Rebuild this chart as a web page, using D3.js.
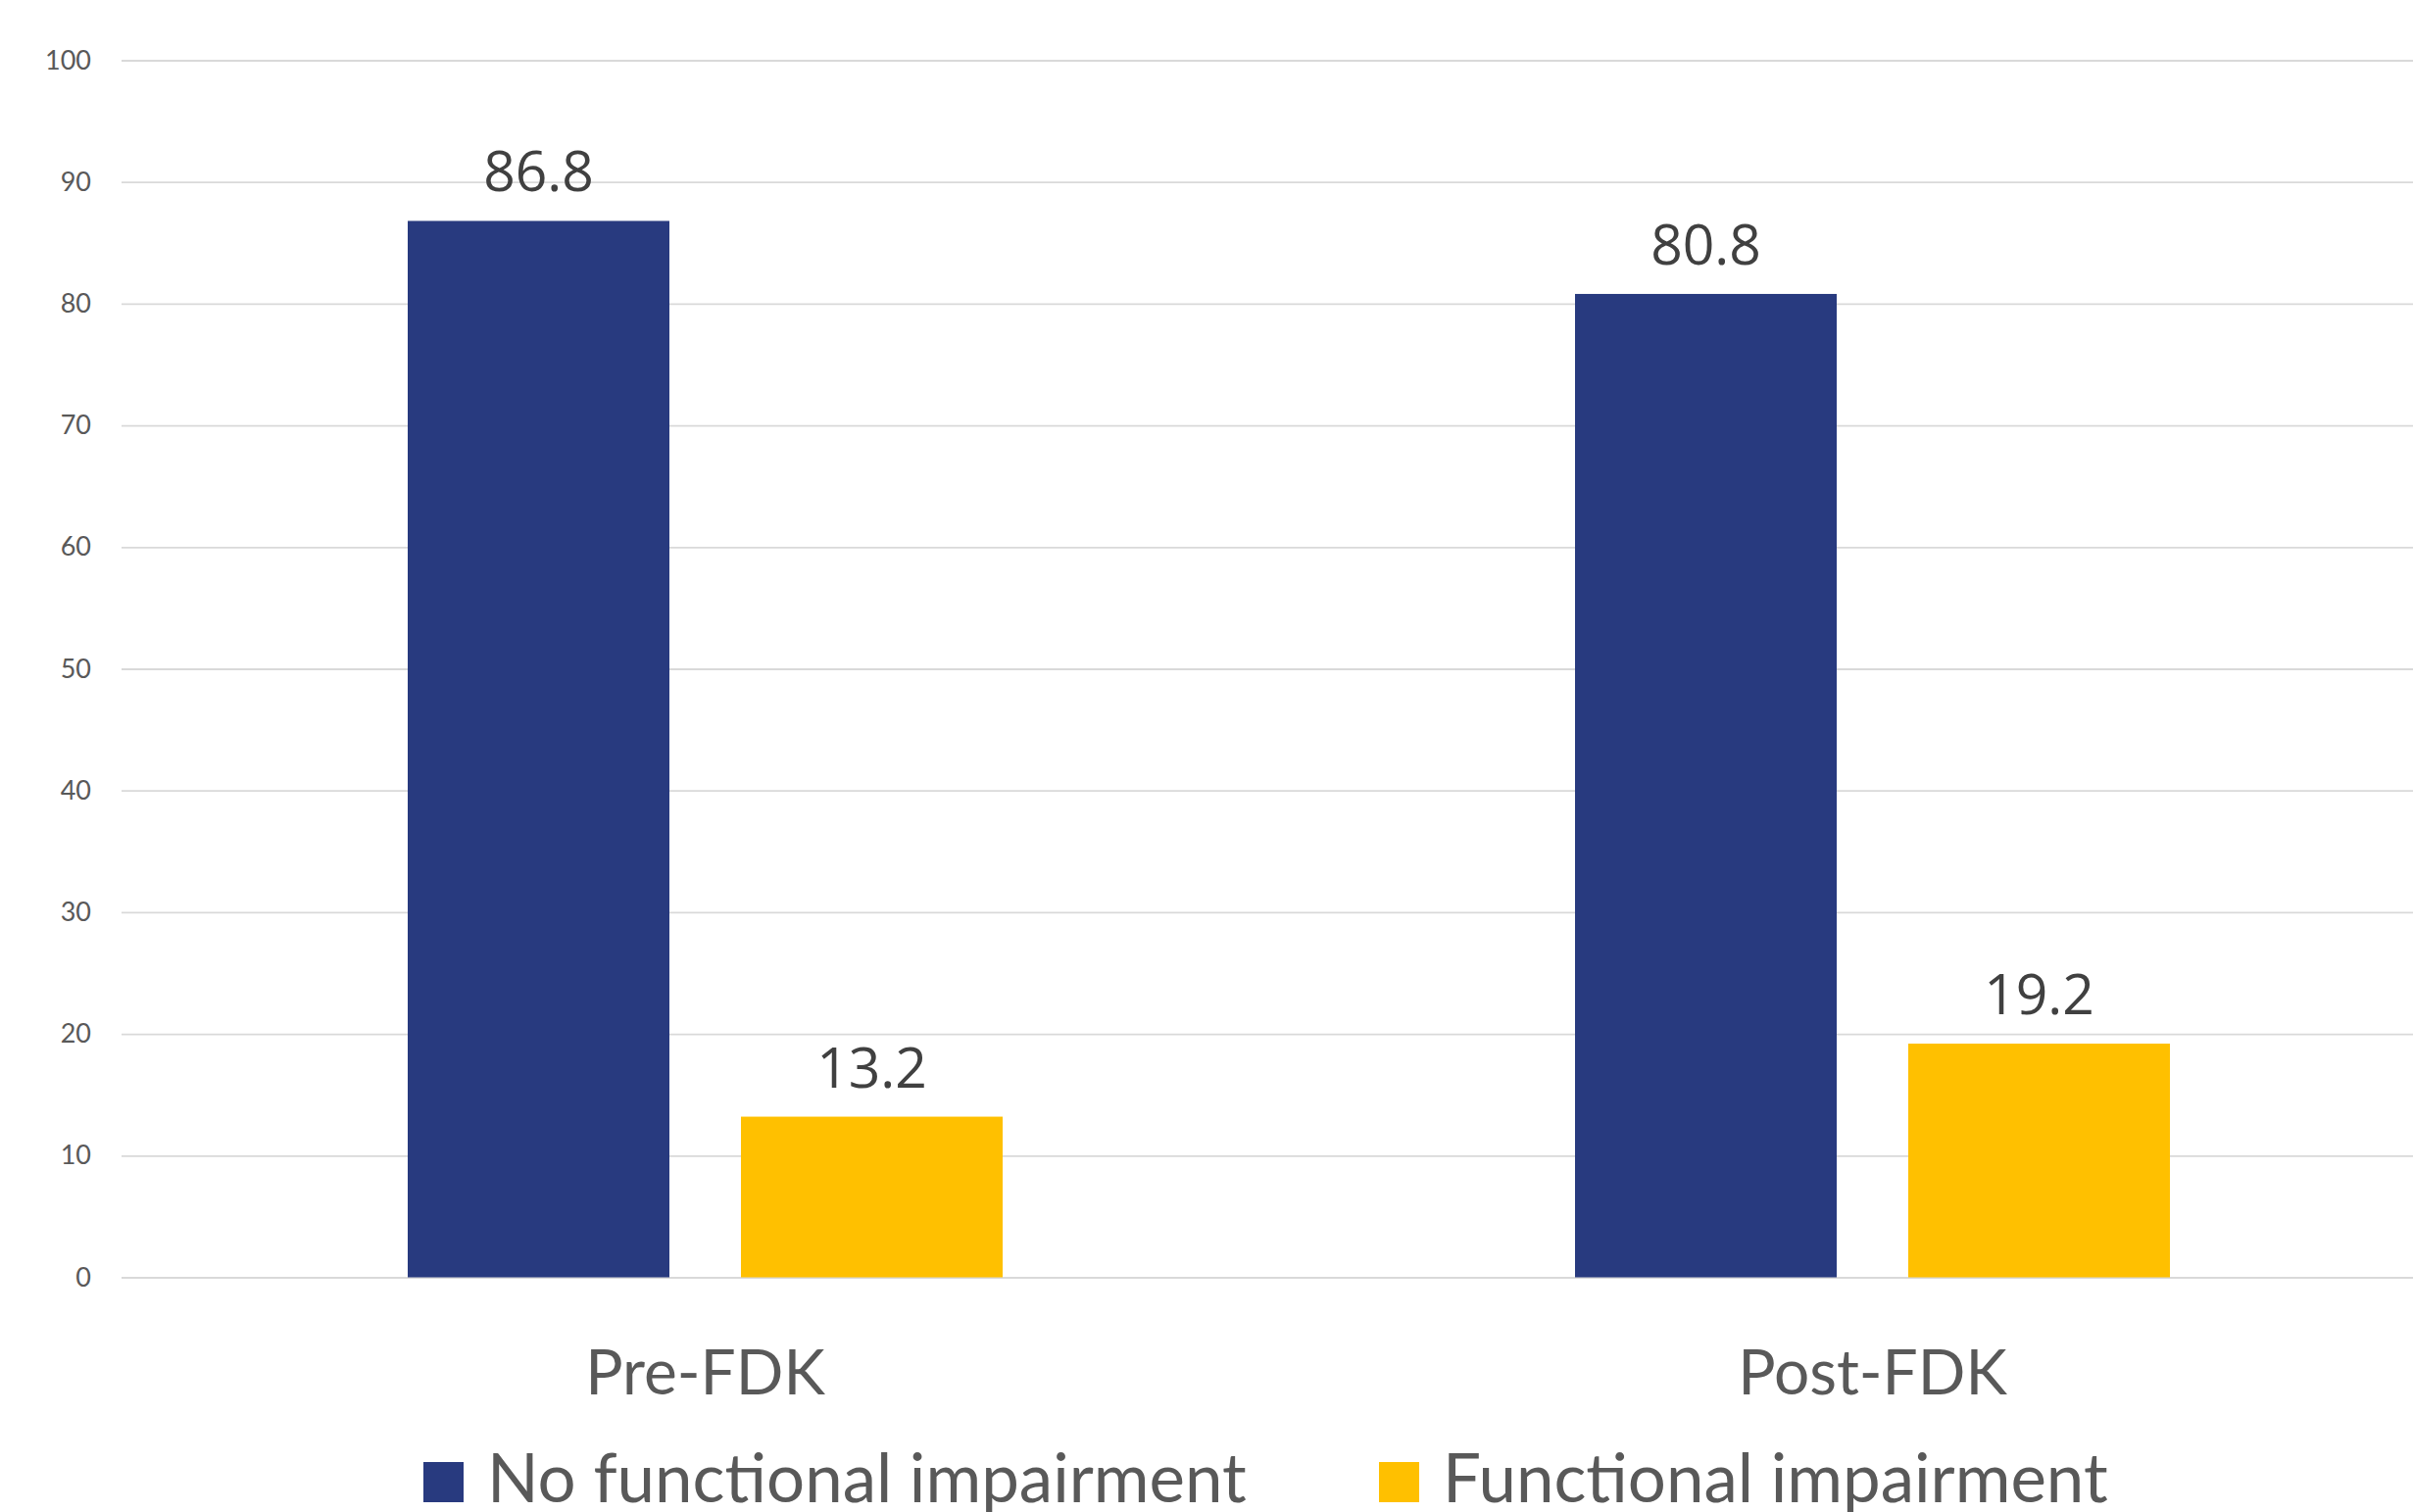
<!DOCTYPE html>
<html>
<head>
<meta charset="utf-8">
<script src="https://cdn.jsdelivr.net/npm/d3@7"></script>
<style>
  html, body { margin: 0; padding: 0; background: #ffffff; }
  svg { display: block; }
</style>
</head>
<body>
<svg id="chart" width="2462" height="1543"></svg>
<script>
// Chart data
const categories = ["Pre-FDK", "Post-FDK"];
const seriesNames = ["No functional impairment", "Functional impairment"];
const noImpairment = [86.8, 80.8];
const impairment = [13.2, 19.2];
const yTicks = [0, 10, 20, 30, 40, 50, 60, 70, 80, 90, 100];

const colors = ["#283A7F", "#FFC000"];
const W = 2462, H = 1543;
const margin = { left: 124, top: 61.5, bottom: 1303.5 };
const bandWidth = 1191;

const svg = d3.select("#chart");

const rows = categories.map((c, i) => ({
  category: c,
  values: [noImpairment[i], impairment[i]]
}));

const x = d3.scaleBand()
  .domain(categories)
  .range([margin.left, margin.left + bandWidth * categories.length])
  .paddingInner(0).paddingOuter(0);

const y = d3.scaleLinear().domain([0, 100]).range([margin.bottom, margin.top]);

// Two bars per category with a fixed gap between the series
const barW = 267, barGap = 73;
const groupW = 2 * barW + barGap;

// Horizontal gridlines and y tick labels
const yAxis = d3.axisLeft(y).tickValues(yTicks).tickSize(-(W - margin.left)).tickPadding(31);
const gy = svg.append("g").attr("transform", `translate(${margin.left},0)`).call(yAxis);
gy.select(".domain").remove();
gy.selectAll(".tick line").attr("stroke", "#d9d9d9").attr("stroke-width", 1.8);
gy.selectAll(".tick text")
  .attr("fill", "#595959")
  .style("font-family", "Lato, 'Open Sans', sans-serif")
  .style("font-size", "27px");

// Bars
const groups = svg.append("g").selectAll("g").data(rows).join("g")
  .attr("transform", d => `translate(${x(d.category) + (bandWidth - groupW) / 2},0)`);

groups.selectAll("rect").data(d => d.values.map((v, s) => ({ v, s }))).join("rect")
  .attr("x", d => d.s * (barW + barGap))
  .attr("width", barW)
  .attr("y", d => y(d.v))
  .attr("height", d => y(0) - y(d.v))
  .attr("fill", d => colors[d.s]);

// Value labels above each bar
groups.selectAll("text.val").data(d => d.values.map((v, s) => ({ v, s }))).join("text")
  .attr("class", "val")
  .attr("x", d => d.s * (barW + barGap) + barW / 2)
  .attr("y", d => y(d.v) - 30)
  .attr("text-anchor", "middle")
  .attr("fill", "#404040")
  .style("font-family", "'Open Sans', sans-serif")
  .style("font-size", "57px")
  .text(d => d.v.toFixed(1));

// Category axis labels
const xAxis = d3.axisBottom(x).tickSize(0).tickPadding(0);
const gx = svg.append("g").attr("transform", `translate(0,${margin.bottom})`).call(xAxis);
gx.select(".domain").remove();
gx.selectAll(".tick text")
  .attr("y", 119)
  .attr("dy", 0)
  .attr("fill", "#595959")
  .style("font-family", "Lato, sans-serif")
  .style("font-size", "64px");

// Legend
const legendX = [432, 1407];
const legend = svg.append("g");
const items = legend.selectAll("g").data(seriesNames).join("g")
  .attr("transform", (d, i) => `translate(${legendX[i]},0)`);
items.append("rect")
  .attr("x", 0).attr("y", 1492).attr("width", 41).attr("height", 41)
  .attr("fill", (d, i) => colors[i]);
items.append("text")
  .attr("x", 65).attr("y", 1533)
  .attr("fill", "#595959")
  .style("font-family", "Lato, sans-serif")
  .style("font-size", "69px")
  .text(d => d);
</script>
</body>
</html>
